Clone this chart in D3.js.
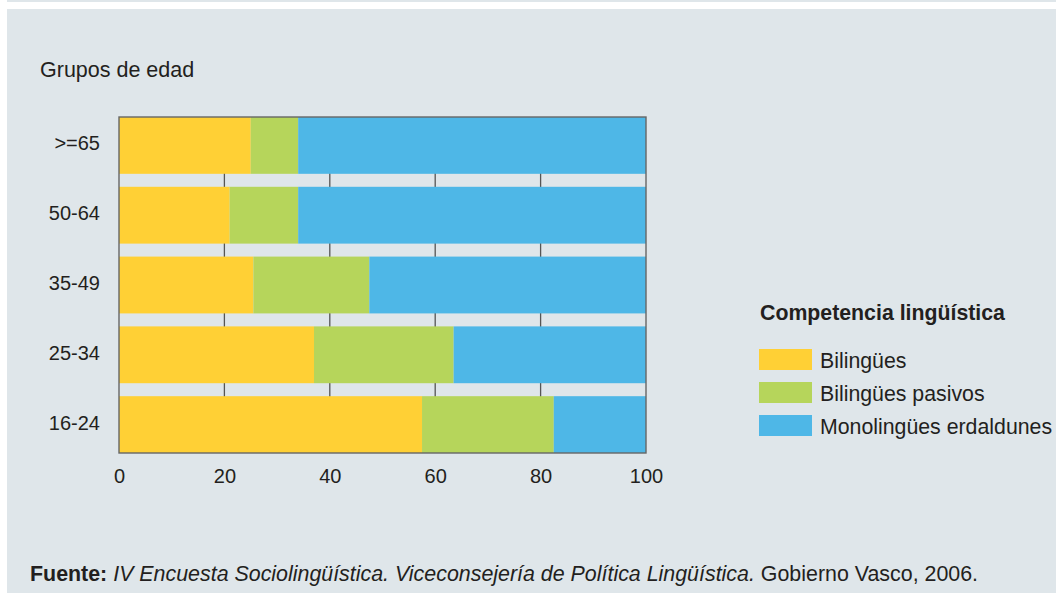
<!DOCTYPE html>
<html>
<head>
<meta charset="utf-8">
<script src="https://cdn.jsdelivr.net/npm/d3@7"></script>
<style>
  body { margin: 0; background: #fff; }
  text { font-family: "Liberation Sans", Arial, sans-serif; fill: #231f20; }
</style>
</head>
<body>
<div id="chart"></div>
<script>
var groups = [">=65", "50-64", "35-49", "25-34", "16-24"];
var bilingues = [25, 21, 25.5, 37, 57.5];
var pasivos = [9, 13, 22, 26.5, 25];
var monolingues = [66, 66, 52.5, 36.5, 17.5];
var series_names = ["Bilingües", "Bilingües pasivos", "Monolingües erdaldunes"];
var series_colors = ["#ffd035", "#b6d55b", "#4eb7e7"];
var x_ticks = [0, 20, 40, 60, 80, 100];

var width = 1056, height = 597;
var margin = {top: 117, left: 119, right: 410, bottom: 144};

var svg = d3.select("#chart")
  .append("svg")
  .attr("width", width)
  .attr("height", height);

//background strip and panel
svg.append("rect").attr("x", 7).attr("y", 0).attr("width", width - 7).attr("height", 2).attr("fill", "#dfe6ea");
svg.append("rect").attr("x", 7).attr("y", 9).attr("width", width - 7).attr("height", 584).attr("fill", "#dfe6ea");

var x = d3.scaleLinear()
  .domain([0, 100])
  .range([margin.left, width - margin.right]);

var y = d3.scaleBand()
  .domain(groups)
  .range([margin.top, height - margin.bottom])
  .paddingInner(0.186)
  .paddingOuter(0);

//build stacked table from the arrays
var table = groups.map(function(g, i) {
  return {group: g, b: bilingues[i], p: pasivos[i], m: monolingues[i]};
});
var stack = d3.stack().keys(["b", "p", "m"])(table);

//vertical grid lines (show only between bars)
svg.append("g")
  .selectAll("line")
  .data(x_ticks.slice(1, -1))
  .enter()
  .append("line")
  .attr("x1", function(d) { return x(d); })
  .attr("x2", function(d) { return x(d); })
  .attr("y1", margin.top)
  .attr("y2", height - margin.bottom)
  .attr("stroke", "#555")
  .attr("stroke-width", 1.3);

svg.append("g")
  .selectAll("g")
  .data(stack)
  .enter()
  .append("g")
  .attr("fill", function(d, i) { return series_colors[i]; })
  .selectAll("rect")
  .data(function(d) { return d; })
  .enter()
  .append("rect")
  .attr("x", function(d) { return x(d[0]); })
  .attr("width", function(d) { return x(d[1]) - x(d[0]); })
  .attr("y", function(d) { return y(d.data.group); })
  .attr("height", y.bandwidth());

//plot frame
svg.append("rect")
  .attr("x", margin.left)
  .attr("y", margin.top)
  .attr("width", x(100) - x(0))
  .attr("height", height - margin.bottom - margin.top)
  .attr("fill", "none")
  .attr("stroke", "#666")
  .attr("stroke-width", 1.4);

//axes (labels only)
var x_axis = d3.axisBottom(x).tickValues(x_ticks).tickSize(0).tickPadding(0);
var gx = svg.append("g")
  .attr("transform", "translate(0," + (height - margin.bottom) + ")")
  .call(x_axis);
gx.select(".domain").remove();
gx.selectAll("text")
  .attr("dy", null)
  .attr("y", 30)
  .style("font-size", "20px")
  .style("font-family", "Liberation Sans, Arial, sans-serif")
  .attr("fill", "#231f20");

var y_axis = d3.axisLeft(y).tickSize(0).tickPadding(19);
var gy = svg.append("g")
  .attr("transform", "translate(" + margin.left + ",0)")
  .call(y_axis);
gy.select(".domain").remove();
gy.selectAll("text")
  .attr("dy", "0.25em")
  .style("font-size", "20px")
  .style("font-family", "Liberation Sans, Arial, sans-serif")
  .attr("fill", "#231f20");

svg.append("text")
  .attr("x", 40)
  .attr("y", 77)
  .style("font-size", "21.5px")
  .text("Grupos de edad");

//legend
var legend = svg.append("g").attr("transform", "translate(759,320)");
legend.append("text")
  .attr("x", 1)
  .attr("y", 0)
  .style("font-size", "21.3px")
  .style("font-weight", "bold")
  .text("Competencia lingüística");

var items = legend.selectAll(".item")
  .data(series_names)
  .enter()
  .append("g")
  .attr("class", "item")
  .attr("transform", function(d, i) { return "translate(0," + (29 + i * 33) + ")"; });
items.append("rect")
  .attr("width", 53)
  .attr("height", 21)
  .attr("fill", function(d, i) { return series_colors[i]; });
items.append("text")
  .attr("x", 61)
  .attr("y", 19)
  .style("font-size", "21.3px")
  .text(function(d) { return d; });

//source line
var src = svg.append("text")
  .attr("x", 30)
  .attr("y", 581)
  .style("font-size", "21.4px");
src.append("tspan").style("font-weight", "bold").text("Fuente: ");
src.append("tspan").style("font-style", "italic").text("IV Encuesta Sociolingüística. Viceconsejería de Política Lingüística.");
src.append("tspan").text(" Gobierno Vasco, 2006.");
</script>
</body>
</html>
